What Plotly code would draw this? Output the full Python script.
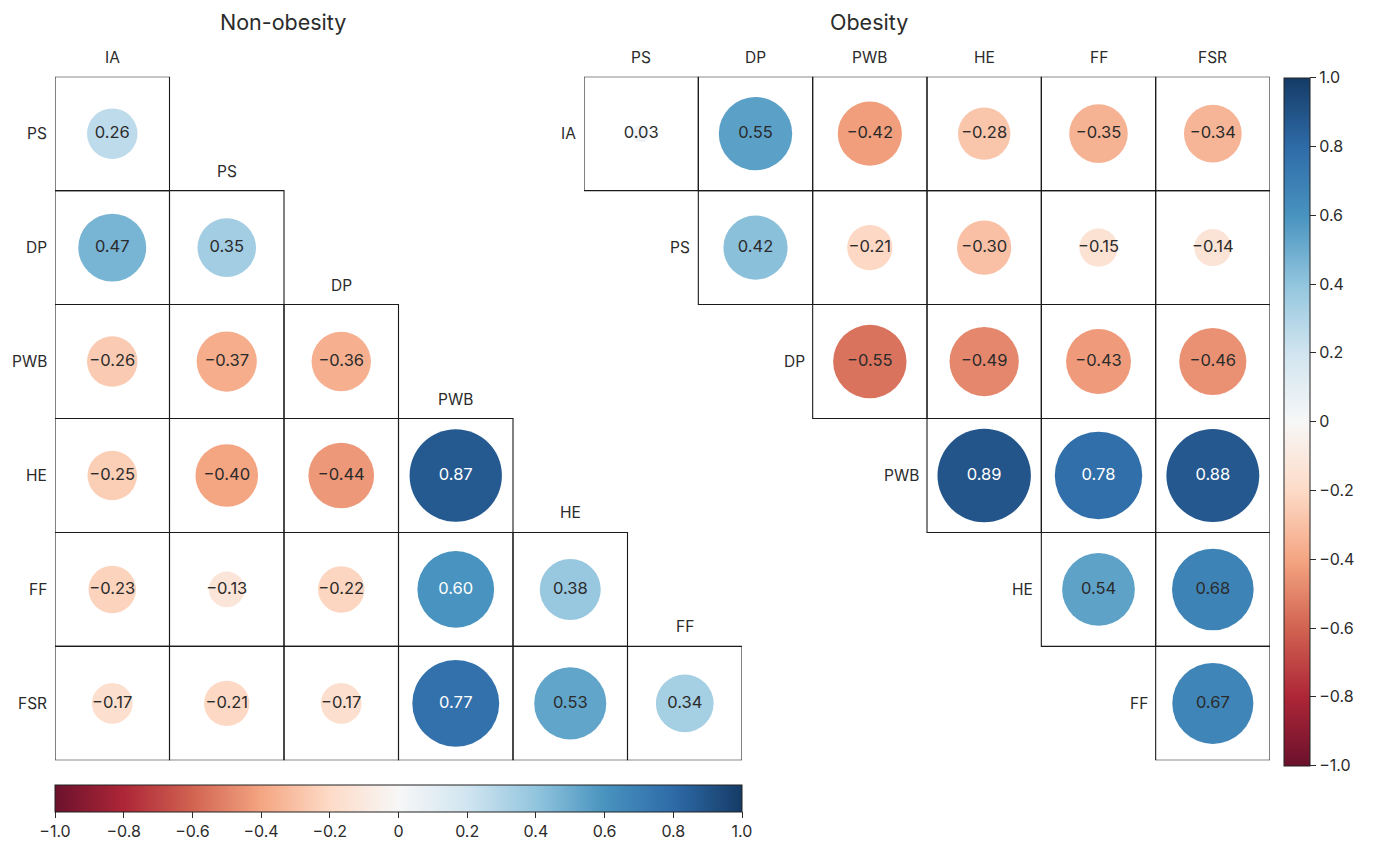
import plotly.graph_objects as go
import math

# ---------------- data ----------------
left_rows = ["PS", "DP", "PWB", "HE", "FF", "FSR"]
left_cols = ["IA", "PS", "DP", "PWB", "HE", "FF"]
left_vals = [
    [0.26],
    [0.47, 0.35],
    [-0.26, -0.37, -0.36],
    [-0.25, -0.40, -0.44, 0.87],
    [-0.23, -0.13, -0.22, 0.60, 0.38],
    [-0.17, -0.21, -0.17, 0.77, 0.53, 0.34],
]

right_rows = ["IA", "PS", "DP", "PWB", "HE", "FF"]
right_cols = ["PS", "DP", "PWB", "HE", "FF", "FSR"]
right_vals = [
    [0.03, 0.55, -0.42, -0.28, -0.35, -0.34],
    [0.42, -0.21, -0.30, -0.15, -0.14],
    [-0.55, -0.49, -0.43, -0.46],
    [0.89, 0.78, 0.88],
    [0.54, 0.68],
    [0.67],
]

cbar_ticks = [-1.0, -0.8, -0.6, -0.4, -0.2, 0.0, 0.2, 0.4, 0.6, 0.8, 1.0]

# ---------------- style ----------------
OFF = 8                      # browser body margin
W, H = 1383 - 2 * OFF, 850 - 2 * OFF
FONT = "Inter"
DARK = "#2b2b2b"
RDBU_STOPS = [
    (103, 0, 31), (178, 24, 43), (214, 96, 77), (244, 165, 130), (253, 219, 199),
    (247, 247, 247), (209, 229, 240), (146, 197, 222), (67, 147, 195),
    (33, 102, 172), (5, 48, 97),
]
MUTE = [0.12, 0.12, 0.07, 0.0, 0.0, 0.0, 0.0, 0.0, 0.07, 0.12, 0.12]


def muted(c, k, g=140):
    return "rgb(%d,%d,%d)" % tuple(round(v * (1 - k) + g * k) for v in c)


RDBU = [[i / 10, muted(c, MUTE[i])] for i, c in enumerate(RDBU_STOPS)]
DMAX = 99  # px diameter at |r| = 1 (area proportional to |r|)


def fmt(v):
    return f"{v:.2f}".replace("-", "\u2212")


def tick_text(t):
    if abs(t) < 1e-9:
        return "0"
    return f"{t:.1f}".replace("-", "\u2212")


def px(v):
    return v - OFF


fig = go.Figure()

# pixel geometry of panels (screen pixels)
L_x0, L_x1, L_y0, L_y1 = 55, 742, 77, 764
R_x0, R_x1, R_y0, R_y1 = 584, 1270, 77, 764


def px_dom_x(a, b):
    return [px(a) / W, px(b) / W]


def px_dom_y(top, bottom):
    return [1 - px(bottom) / H, 1 - px(top) / H]


fig.update_layout(
    xaxis=dict(domain=px_dom_x(L_x0, L_x1), range=[-0.5, 5.5]),
    yaxis=dict(domain=px_dom_y(L_y0, L_y1), range=[5.5, -0.5]),
    xaxis2=dict(domain=px_dom_x(R_x0, R_x1), range=[-0.5, 5.5], anchor="y2"),
    yaxis2=dict(domain=px_dom_y(R_y0, R_y1), range=[5.5, -0.5], anchor="x2"),
)
for ax in ["xaxis", "yaxis", "xaxis2", "yaxis2"]:
    fig.layout[ax].update(showgrid=False, zeroline=False, showticklabels=False,
                          showline=False, ticks="", fixedrange=True)

annotations = []
shapes = []


def add_panel(rows, cols, vals, xref, yref, upper, white_thr, cbar):
    xs, ys, vs, txt, tcol, sizes = [], [], [], [], [], []
    for i, rowvals in enumerate(vals):
        for k, v in enumerate(rowvals):
            j = (i + k) if upper else k
            xs.append(j)
            ys.append(i)
            vs.append(v)
            txt.append(fmt(v))
            tcol.append("white" if v >= white_thr else DARK)
            sizes.append(DMAX * math.sqrt(abs(v)))
            shapes.append(dict(type="rect", xref=xref, yref=yref,
                               x0=j - 0.5, x1=j + 0.5, y0=i - 0.5, y1=i + 0.5,
                               line=dict(color="#1a1a1a", width=1.1), layer="below"))
    fig.add_trace(go.Scatter(
        x=xs, y=ys, mode="markers+text", text=txt,
        textposition="middle center",
        textfont=dict(family=FONT, size=16.5, color=tcol),
        marker=dict(size=sizes, color=vs, colorscale=RDBU, cmin=-1, cmax=1,
                    line=dict(width=0), opacity=1, showscale=True, colorbar=cbar),
        xaxis=xref, yaxis=yref, hoverinfo="skip", showlegend=False,
    ))
    for i, r in enumerate(rows):
        col_first = i if upper else 0
        annotations.append(dict(x=col_first - 0.5, y=i, xref=xref, yref=yref,
                                text=r, showarrow=False, xanchor="right",
                                yanchor="middle", xshift=-6,
                                font=dict(family=FONT, size=15.5, color=DARK)))
    for j, c in enumerate(cols):
        top_row = 0 if upper else j
        annotations.append(dict(x=j, y=top_row - 0.5, xref=xref, yref=yref,
                                text=c, showarrow=False, xanchor="center",
                                yanchor="bottom", yshift=8,
                                font=dict(family=FONT, size=15.5, color=DARK)))


cb_common = dict(
    tickvals=cbar_ticks, ticktext=[tick_text(t) for t in cbar_ticks],
    ticks="outside", ticklen=6, tickwidth=1, tickcolor=DARK,
    tickfont=dict(family=FONT, size=16, color=DARK),
    outlinewidth=1, outlinecolor="#222", xpad=0, ypad=0, lenmode="pixels",
)

cb_h = dict(cb_common, orientation="h", x=px(L_x0) / W, xanchor="left",
            y=1 - px(789) / H, yanchor="top", yref="paper", len=L_x1 - L_x0,
            thickness=27, thicknessmode="pixels")
cb_v = dict(cb_common, orientation="v", x=px(1284) / W, xanchor="left",
            y=1 - px(78) / H, yanchor="top", len=688, thickness=26,
            thicknessmode="pixels")

add_panel(left_rows, left_cols, left_vals, "x", "y", False, 0.58, cb_h)
add_panel(right_rows, right_cols, right_vals, "x2", "y2", True, 0.72, cb_v)

for title, cx in [("Non-obesity", 283), ("Obesity", 869)]:
    annotations.append(dict(x=px(cx) / W, y=1.0, xref="paper", yref="paper",
                            text=title, showarrow=False, xanchor="center",
                            yanchor="top", borderpad=0,
                            font=dict(family=FONT, size=21.5, color=DARK)))

fig.update_layout(
    width=W, height=H, margin=dict(l=0, r=0, t=0, b=0),
    paper_bgcolor="white", plot_bgcolor="rgba(0,0,0,0)",
    annotations=annotations, shapes=shapes, showlegend=False,
    font=dict(family=FONT, color=DARK),
)

fig.write_html("out.html")
